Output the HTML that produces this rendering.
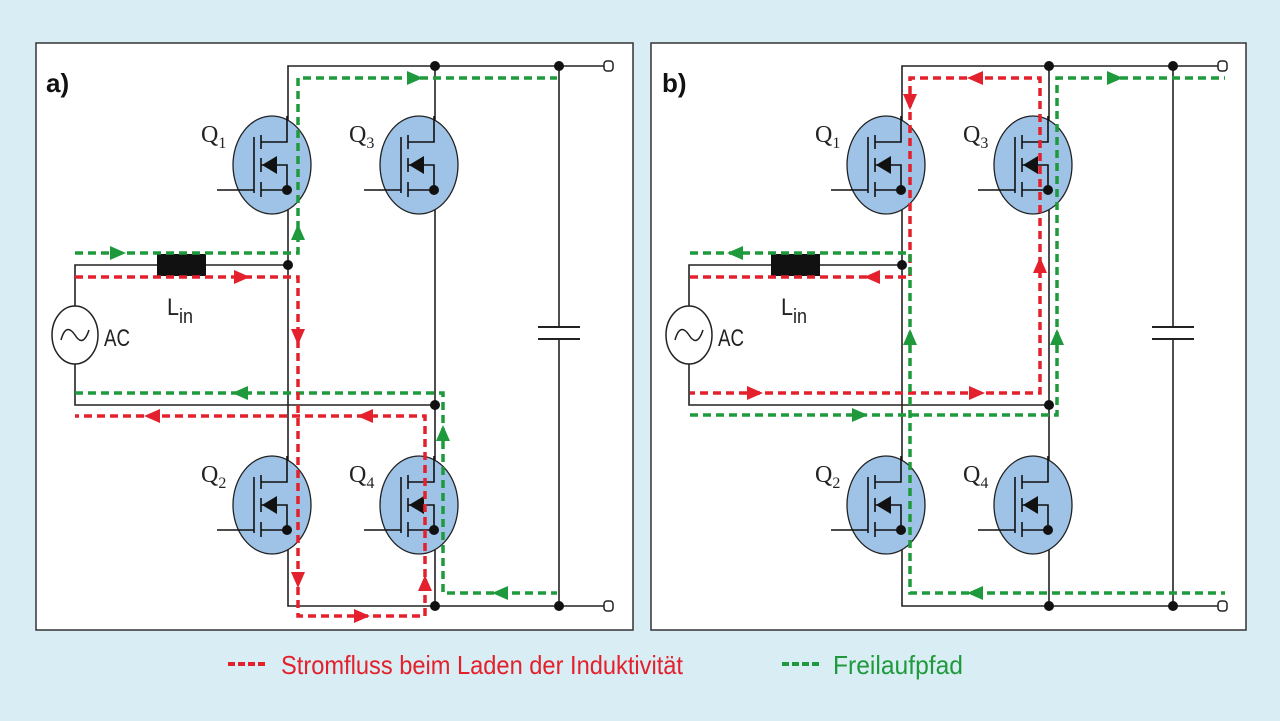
<!DOCTYPE html>
<html><head><meta charset="utf-8"><style>
html,body{margin:0;padding:0;background:#d9edf4;}
svg{display:block}
</style></head><body>
<svg width="1280" height="721" viewBox="0 0 1280 721" xmlns="http://www.w3.org/2000/svg">
<defs>
<path id="ar" d="M-8,-7 L8,0 L-8,7Z"/>
<g id="mos">
<ellipse cx="0" cy="0" rx="39" ry="49" fill="#9ec3e6" stroke="#222" stroke-width="1.3"/>
<g stroke="#111" stroke-width="1.6" fill="none">
<line x1="-55" y1="25" x2="-18" y2="25"/>
<line x1="-18" y1="-28" x2="-18" y2="28"/>
<line x1="-11" y1="-30" x2="-11" y2="-16"/>
<line x1="-11" y1="-7" x2="-11" y2="7"/>
<line x1="-11" y1="17" x2="-11" y2="32"/>
<polyline points="-11,-23 15,-23 15,-49"/>
<line x1="-11" y1="25" x2="15" y2="25"/>
<polyline points="-11,0 15,0 15,25"/>
</g>
<polygon points="-10,0 5,-9 5,9" fill="#111"/>
<circle cx="15" cy="25" r="5" fill="#111"/>
</g>
<g id="base">
<g stroke="#222" stroke-width="1.6" fill="none">
<polyline points="604,66 288,66 288,606 604,606"/>
<line x1="435" y1="66" x2="435" y2="606"/>
<line x1="559" y1="66" x2="559" y2="327"/>
<line x1="559" y1="339" x2="559" y2="606"/>
<line x1="538" y1="327" x2="580" y2="327" stroke-width="2"/>
<line x1="538" y1="339" x2="580" y2="339" stroke-width="2"/>
<polyline points="288,265 75,265 75,306"/>
<polyline points="75,364 75,405 435,405"/>
</g>
<rect x="604" y="61" width="9" height="10" rx="3" fill="#fff" stroke="#222" stroke-width="1.5"/>
<rect x="604" y="601" width="9" height="10" rx="3" fill="#fff" stroke="#222" stroke-width="1.5"/>
<rect x="157" y="254" width="49" height="22" fill="#111"/>
<ellipse cx="75" cy="335" rx="23" ry="29" fill="#fff" stroke="#222" stroke-width="1.5"/>
<path d="M61,340 Q66,322 75,335 Q83,348 89,330" fill="none" stroke="#222" stroke-width="1.5"/>
<use href="#mos" x="272" y="165"/>
<use href="#mos" x="419" y="165"/>
<use href="#mos" x="272" y="505"/>
<use href="#mos" x="419" y="505"/>
<g fill="#111">
<circle cx="435" cy="66" r="5"/><circle cx="559" cy="66" r="5"/>
<circle cx="435" cy="606" r="5"/><circle cx="559" cy="606" r="5"/>
<circle cx="288" cy="265" r="5"/><circle cx="435" cy="405" r="5"/>
</g>
<g font-family="Liberation Serif, serif" font-size="24" fill="#222">
<text x="201" y="142">Q<tspan font-size="16" dy="6">1</tspan></text>
<text x="349" y="142">Q<tspan font-size="16" dy="6">3</tspan></text>
<text x="201" y="482">Q<tspan font-size="16" dy="6">2</tspan></text>
<text x="349" y="482">Q<tspan font-size="16" dy="6">4</tspan></text>
</g>
<g font-family="Liberation Sans, sans-serif" font-size="24" fill="#222">
<text x="104" y="346" textLength="26" lengthAdjust="spacingAndGlyphs">AC</text>
<text x="167" y="315" textLength="26" lengthAdjust="spacingAndGlyphs">L<tspan font-size="20" dy="8">in</tspan></text>
</g>
</g>
</defs>
<rect x="36" y="43" width="597" height="587" fill="#fff" stroke="#333" stroke-width="1.5"/>
<rect x="651" y="43" width="595" height="587" fill="#fff" stroke="#333" stroke-width="1.5"/>
<text x="46" y="92" font-family="Liberation Sans, sans-serif" font-weight="bold" font-size="26" fill="#111">a)</text>
<text x="662" y="92" font-family="Liberation Sans, sans-serif" font-weight="bold" font-size="26" fill="#111">b)</text>
<use href="#base"/>
<use href="#base" x="614"/>

<g fill="none" stroke-width="3.5" stroke-dasharray="8 5">
<polyline stroke="#1e9a3c" points="75,253 298,253 298,78 557,78"/>
<polyline stroke="#1e9a3c" points="75,393 443,393 443,593 557,593"/>
<polyline stroke="#e3202c" points="75,277 298,277 298,616 425,616 425,416 75,416"/>
</g>
<g fill="#1e9a3c">
<use href="#ar" transform="translate(118,253)"/>
<use href="#ar" transform="translate(298,232) rotate(-90)"/>
<use href="#ar" transform="translate(415,78)"/>
<use href="#ar" transform="translate(240,393) rotate(180)"/>
<use href="#ar" transform="translate(443,433) rotate(-90)"/>
<use href="#ar" transform="translate(500,593) rotate(180)"/>
</g>
<g fill="#e3202c">
<use href="#ar" transform="translate(242,277)"/>
<use href="#ar" transform="translate(298,337) rotate(90)"/>
<use href="#ar" transform="translate(298,580) rotate(90)"/>
<use href="#ar" transform="translate(362,616)"/>
<use href="#ar" transform="translate(425,583) rotate(-90)"/>
<use href="#ar" transform="translate(365,416) rotate(180)"/>
<use href="#ar" transform="translate(152,416) rotate(180)"/>
</g>

<g fill="none" stroke-width="3.5" stroke-dasharray="8 5">
<polyline stroke="#e3202c" points="690,277 910,277 910,78 1040,78 1040,393 690,393"/>
<polyline stroke="#1e9a3c" points="690,253 910,253 910,593 1225,593"/>
<polyline stroke="#1e9a3c" points="690,415 1057,415 1057,78 1225,78"/>
</g>
<g fill="#e3202c">
<use href="#ar" transform="translate(975,78) rotate(180)"/>
<use href="#ar" transform="translate(910,102) rotate(90)"/>
<use href="#ar" transform="translate(872,277) rotate(180)"/>
<use href="#ar" transform="translate(755,393)"/>
<use href="#ar" transform="translate(977,393)"/>
<use href="#ar" transform="translate(1040,265) rotate(-90)"/>
</g>
<g fill="#1e9a3c">
<use href="#ar" transform="translate(735,253) rotate(180)"/>
<use href="#ar" transform="translate(910,337) rotate(-90)"/>
<use href="#ar" transform="translate(860,415)"/>
<use href="#ar" transform="translate(1057,337) rotate(-90)"/>
<use href="#ar" transform="translate(1115,78)"/>
<use href="#ar" transform="translate(975,593) rotate(180)"/>
</g>

<line x1="228" y1="664" x2="268" y2="664" stroke="#e3202c" stroke-width="4" stroke-dasharray="7 3"/>
<text x="281" y="674" font-family="Liberation Sans, sans-serif" font-size="26" fill="#e3202c" textLength="402" lengthAdjust="spacingAndGlyphs">Stromfluss beim Laden der Induktivität</text>
<line x1="782" y1="664" x2="822" y2="664" stroke="#1e9a3c" stroke-width="4" stroke-dasharray="7 3"/>
<text x="833" y="674" font-family="Liberation Sans, sans-serif" font-size="26" fill="#1e9a3c" textLength="130" lengthAdjust="spacingAndGlyphs">Freilaufpfad</text>
</svg>
</body></html>
